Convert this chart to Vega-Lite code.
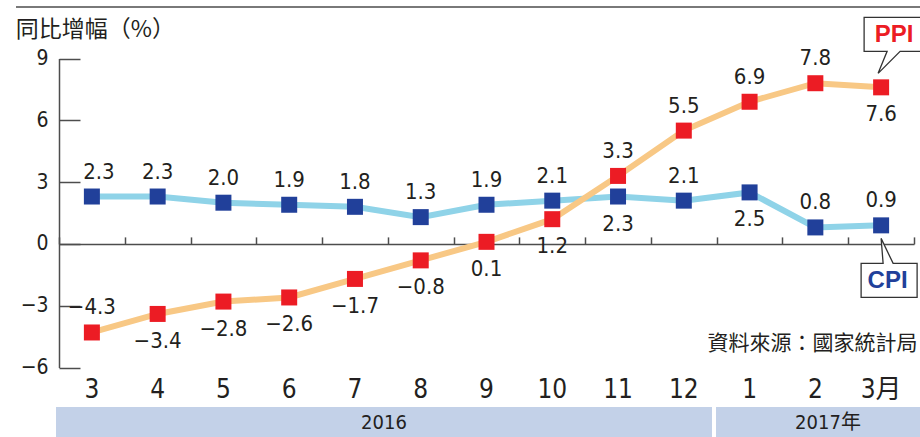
{
  "$schema": "https://vega.github.io/schema/vega-lite/v6.json",
  "padding": {"left": 14, "top": 6, "right": 0, "bottom": 0},
  "autosize": {"type": "pad"},
  "background": "white",
  "spacing": 0,
  "config": {
    "view": {"stroke": null},
    "font": "'Liberation Sans Narrow', 'DejaVu Sans Condensed', 'Noto Sans CJK TC', sans-serif",
    "text": {"color": "#231f20"}
  },
  "datasets": {
    "cpippi": [
      {"month": "3", "series": "CPI", "value": 2.3}, {"month": "3", "series": "PPI", "value": -4.3},
      {"month": "4", "series": "CPI", "value": 2.3}, {"month": "4", "series": "PPI", "value": -3.4},
      {"month": "5", "series": "CPI", "value": 2.0}, {"month": "5", "series": "PPI", "value": -2.8},
      {"month": "6", "series": "CPI", "value": 1.9}, {"month": "6", "series": "PPI", "value": -2.6},
      {"month": "7", "series": "CPI", "value": 1.8}, {"month": "7", "series": "PPI", "value": -1.7},
      {"month": "8", "series": "CPI", "value": 1.3}, {"month": "8", "series": "PPI", "value": -0.8},
      {"month": "9", "series": "CPI", "value": 1.9}, {"month": "9", "series": "PPI", "value": 0.1},
      {"month": "10", "series": "CPI", "value": 2.1}, {"month": "10", "series": "PPI", "value": 1.2},
      {"month": "11", "series": "CPI", "value": 2.3}, {"month": "11", "series": "PPI", "value": 3.3},
      {"month": "12", "series": "CPI", "value": 2.1}, {"month": "12", "series": "PPI", "value": 5.5},
      {"month": "1", "series": "CPI", "value": 2.5}, {"month": "1", "series": "PPI", "value": 6.9},
      {"month": "2", "series": "CPI", "value": 0.8}, {"month": "2", "series": "PPI", "value": 7.8},
      {"month": "3月", "series": "CPI", "value": 0.9}, {"month": "3月", "series": "PPI", "value": 7.6}
    ],
    "years": [{"year": "2016"}, {"year": "2017年"}]
  },
  "vconcat": [
    {
      "width": 906,
      "height": 399,
      "view": {"stroke": "#4d4d4d", "strokeWidth": 1.5, "strokeDash": [906, 5000]},
      "data": {"name": "cpippi"},
      "resolve": {"axis": {"x": "independent"}},
      "layer": [
        {
          "transform": [{"filter": "datum.series == 'CPI'"}],
          "mark": {"type": "line", "color": "#8fd3e8", "strokeWidth": 6},
          "encoding": {
            "x": {
              "field": "month", "type": "ordinal",
              "scale": {"type": "band", "domain": ["3","4","5","6","7","8","9","10","11","12","1","2","3月"], "range": [43, 898], "paddingInner": 0, "paddingOuter": 0},
              "axis": {"orient": "bottom", "offset": -162.1, "labels": false, "title": null, "grid": false,
                       "domain": true, "domainColor": "#4d4d4d", "domainWidth": 1.5,
                       "ticks": true, "tickBand": "extent", "tickSize": -7, "tickColor": "#4d4d4d", "tickWidth": 1.5}
            },
            "y": {
              "field": "value", "type": "quantitative",
              "scale": {"domain": [-6, 9], "range": [360.5, 51.5], "nice": false, "zero": false},
              "axis": {"values": [-6, -3, 0, 3, 6, 9], "offset": -43, "grid": false,
                       "domainColor": "#4d4d4d", "domainWidth": 1.5,
                       "tickColor": "#4d4d4d", "tickWidth": 1.5, "tickSize": -21,
                       "labelFontSize": 21, "labelColor": "#231f20", "labelPadding": 32,
                       "title": "同比增幅（%）", "titleAngle": 0, "titleAlign": "left", "titleBaseline": "middle",
                       "titleX": -43.7, "titleY": 22, "titleFont": "Noto Sans CJK TC", "titleFontSize": 23,
                       "titleFontWeight": "normal", "titleColor": "#231f20"}
            }
          }
        },
        {
          "transform": [{"filter": "datum.series == 'PPI'"}],
          "mark": {"type": "line", "color": "#f8c885", "strokeWidth": 6},
          "encoding": {
            "x": {
              "field": "month", "type": "ordinal",
              "axis": {"orient": "bottom", "offset": -31, "domain": false, "ticks": false, "grid": false,
                       "labelAngle": 0, "labelFontSize": 26, "labelColor": "#231f20", "labelPadding": 1,
                       "title": "資料來源：國家統計局", "titleFont": "Noto Sans CJK TC", "titleFontSize": 21,
                       "titleFontWeight": "normal", "titleColor": "#231f20", "titleAlign": "right",
                       "titleBaseline": "middle", "titleX": 901, "titleY": -32}
            },
            "y": {"field": "value", "type": "quantitative"}
          }
        },
        {
          "transform": [{"filter": "datum.month == '3月'"}],
          "mark": {"type": "point", "filled": true, "fill": "white", "stroke": "#333333", "strokeWidth": 1.3, "opacity": 1, "size": 4},
          "encoding": {
            "x": {"field": "month", "type": "ordinal", "axis": null},
            "y": {"field": "value", "type": "quantitative"},
            "shape": {
              "field": "series", "type": "nominal", "legend": null,
              "scale": {"domain": ["CPI", "PPI"],
                        "range": ["M -20 38 L 2 38 L 0 13 L 12 38 L 36 38 L 36 72 L -20 72 Z",
                                  "M -17 -70 L 44 -70 L 44 -36 L 19 -36 L -3 -14 L 6 -36 L -17 -36 Z"]}
            }
          }
        },
        {
          "transform": [{"filter": "datum.month == '3月' && datum.series == 'PPI'"}],
          "mark": {"type": "text", "font": "Liberation Sans", "fontWeight": 900, "fontSize": 24, "color": "#ec1c24", "dx": 13, "dy": -52.5, "baseline": "middle"},
          "encoding": {
            "x": {"field": "month", "type": "ordinal", "axis": null},
            "y": {"field": "value", "type": "quantitative"},
            "text": {"field": "series"}
          }
        },
        {
          "transform": [{"filter": "datum.month == '3月' && datum.series == 'CPI'"}],
          "mark": {"type": "text", "font": "Liberation Sans", "fontWeight": 900, "fontSize": 24, "color": "#21409a", "dx": 6.5, "dy": 56, "baseline": "middle"},
          "encoding": {
            "x": {"field": "month", "type": "ordinal", "axis": null},
            "y": {"field": "value", "type": "quantitative"},
            "text": {"field": "series"}
          }
        },
        {
          "mark": {"type": "point", "shape": "square", "filled": true, "size": 256, "opacity": 1},
          "encoding": {
            "x": {"field": "month", "type": "ordinal", "axis": null},
            "y": {"field": "value", "type": "quantitative"},
            "color": {"field": "series", "type": "nominal", "legend": null,
                      "scale": {"domain": ["CPI", "PPI"], "range": ["#21409a", "#ec1c24"]}}
          }
        },
        {
          "transform": [{"filter": "!((datum.series == 'CPI' && (datum.month == '11' || datum.month == '1' || datum.month == '3')) || (datum.series == 'PPI' && indexof(['4','5','6','7','8','9','10','3月'], datum.month) >= 0))"}],
          "mark": {"type": "text", "fontSize": 22, "dy": -25, "baseline": "middle"},
          "encoding": {
            "x": {"field": "month", "type": "ordinal", "axis": null},
            "y": {"field": "value", "type": "quantitative"},
            "text": {"field": "value", "type": "quantitative", "format": ".1f"}
          }
        },
        {
          "transform": [{"filter": "datum.series == 'CPI' && datum.month == '3'"}],
          "mark": {"type": "text", "fontSize": 22, "dy": -25, "dx": 7, "baseline": "middle"},
          "encoding": {
            "x": {"field": "month", "type": "ordinal", "axis": null},
            "y": {"field": "value", "type": "quantitative"},
            "text": {"field": "value", "type": "quantitative", "format": ".1f"}
          }
        },
        {
          "transform": [{"filter": "(datum.series == 'CPI' && (datum.month == '11' || datum.month == '1')) || (datum.series == 'PPI' && indexof(['4','5','6','7','8','9','10','3月'], datum.month) >= 0)"}],
          "mark": {"type": "text", "fontSize": 22, "dy": 27, "baseline": "middle"},
          "encoding": {
            "x": {"field": "month", "type": "ordinal", "axis": null},
            "y": {"field": "value", "type": "quantitative"},
            "text": {"field": "value", "type": "quantitative", "format": ".1f"}
          }
        }
      ]
    },
    {
      "spacing": 4,
      "hconcat": [
        {
          "width": 36, "height": 32,
          "data": {"values": [{}]},
          "mark": {"type": "point", "opacity": 0}
        },
        {
          "width": 656, "height": 32,
          "view": {"fill": "#c3d1e8", "stroke": null},
          "data": {"name": "years"},
          "transform": [{"filter": "datum.year == '2016'"}],
          "mark": {"type": "text", "fontSize": 20, "baseline": "middle"},
          "encoding": {"text": {"field": "year"}}
        },
        {
          "width": 206, "height": 32,
          "view": {"fill": "#c3d1e8", "stroke": null},
          "data": {"name": "years"},
          "transform": [{"filter": "datum.year == '2017年'"}],
          "mark": {"type": "text", "fontSize": 20, "baseline": "middle", "dx": 9},
          "encoding": {"text": {"field": "year"}}
        }
      ]
    }
  ]
}
